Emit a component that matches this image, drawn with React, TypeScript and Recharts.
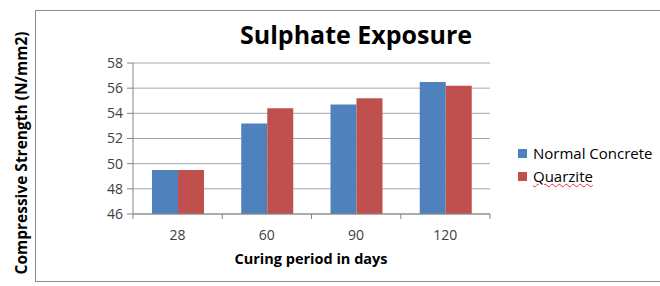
import { Bar, BarChart, CartesianGrid, XAxis, YAxis } from 'recharts';

const days = ['28', '60', '90', '120'];
const normalConcrete = [49.5, 53.2, 54.7, 56.5];
const quarzite = [49.5, 54.4, 55.2, 56.2];
const yTicks = [46, 48, 50, 52, 54, 56, 58];

const blue = '#4f81bd';
const red = '#c0504d';
const axisGray = '#868686';
const font = '"Open Sans", Lato, sans-serif';

const rows = days.map((d, i) => ({ day: d, normal: normalConcrete[i], quarzite: quarzite[i] }));

function DayTick(props: any) {
  const { x, y, payload, index } = props;
  const half = payload.offset ?? 0;
  return (
    <g>
      <line x1={x - half} x2={x - half} y1={y - 8} y2={y - 3} stroke={axisGray} />
      {index === days.length - 1 && (
        <line x1={x + half} x2={x + half} y1={y - 8} y2={y - 3} stroke={axisGray} />
      )}
      <text x={x} y={y + 18} textAnchor="middle" fontSize={14} fill="#404040" fontFamily={font}>
        {payload.value}
      </text>
    </g>
  );
}

export default function App() {
  return (
    <div style={{ position: 'fixed', left: 0, top: 0, width: 660, height: 286, background: '#fff', overflow: 'hidden' }}>
      <div
        style={{
          position: 'absolute',
          left: 35,
          top: 10,
          width: 640,
          height: 270,
          borderLeft: '1.5px solid #8c8c8c',
          borderTop: '1.5px solid #8c8c8c',
          borderBottom: '1.5px solid #8c8c8c',
        }}
      />
      <div style={{ position: 'absolute', left: 0, top: 0 }}>
        <BarChart
          width={660}
          height={286}
          data={rows}
          margin={{ top: 63, right: 170, bottom: 42, left: 93 }}
          barCategoryGap={19}
          barGap={0}
        >
          <CartesianGrid horizontal vertical={false} stroke="#a6a6a6" />
          <XAxis
            dataKey="day"
            tick={<DayTick />}
            tickLine={false}
            axisLine={{ stroke: axisGray }}
            interval={0}
            height={30}
          />
          <YAxis
            domain={[46, 58]}
            ticks={yTicks}
            width={40}
            tickSize={6}
            tickMargin={4}
            tickLine={{ stroke: axisGray }}
            axisLine={{ stroke: axisGray }}
            tick={{ fontSize: 14, fill: '#404040', fontFamily: font }}
            interval={0}
          />
          <Bar dataKey="normal" name="Normal Concrete" fill={blue} isAnimationActive={false} />
          <Bar dataKey="quarzite" name="Quarzite" fill={red} isAnimationActive={false} />
          <text x={356} y={44} textAnchor="middle" fontSize={25} fontWeight={700} fontFamily={font} fill="#000">
            Sulphate Exposure
          </text>
          <text x={311} y={264} textAnchor="middle" fontSize={14.5} fontWeight={700} fontFamily={font} fill="#000">
            Curing period in days
          </text>
          <text
            x={0}
            y={0}
            transform="translate(27,153) rotate(-90)"
            textAnchor="middle"
            fontSize={15.5}
            fontWeight={700}
            fontFamily={font}
            fill="#000"
          >
            Compressive Strength (N/mm2)
          </text>
        </BarChart>
      </div>
      <div style={{ position: 'absolute', left: 518, top: 143, fontFamily: font, fontSize: 15, color: '#000' }}>
        <div style={{ display: 'flex', alignItems: 'center', height: 20 }}>
          <span style={{ width: 9, height: 9, background: blue, marginRight: 6 }} />
          Normal Concrete
        </div>
        <div style={{ display: 'flex', alignItems: 'center', height: 20, marginTop: 3 }}>
          <span style={{ width: 9, height: 9, background: red, marginRight: 6 }} />
          <span style={{ textDecoration: 'underline wavy #e03030', textDecorationThickness: 1 }}>Quarzite</span>
        </div>
      </div>
    </div>
  );
}
